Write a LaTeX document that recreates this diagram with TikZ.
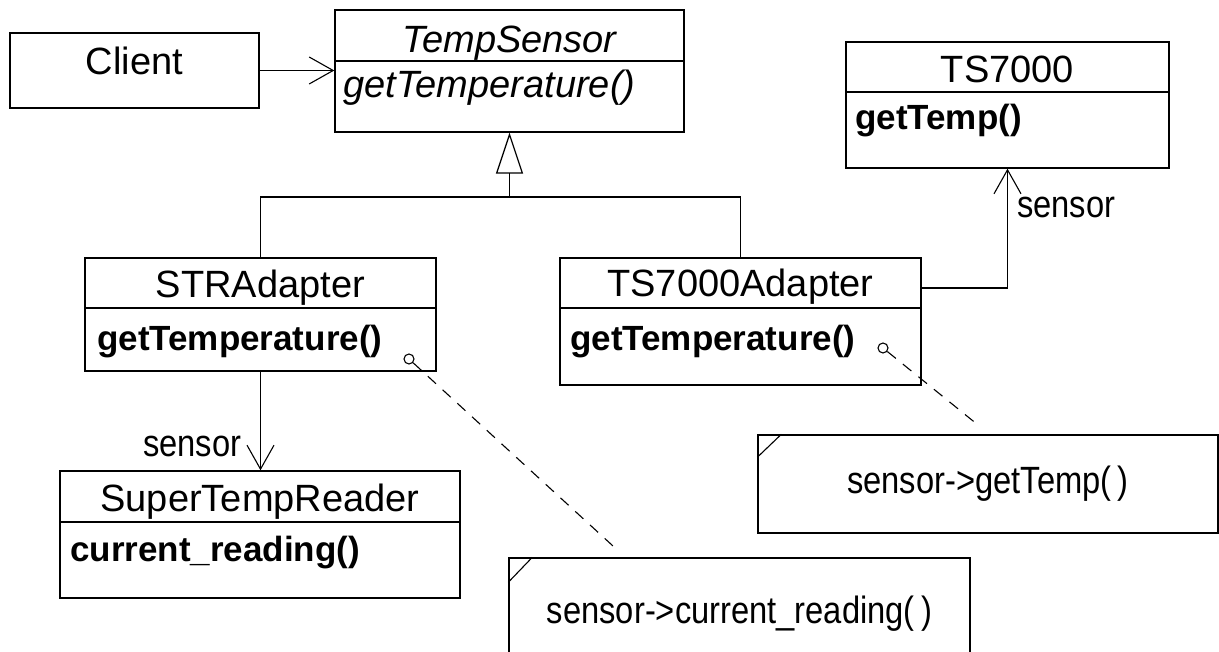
\documentclass[tikz,border=0pt]{standalone}
\usepackage{fontspec}
\setmainfont{Liberation Sans}
\newfontfamily\thinfont{Liberation Sans}[FakeStretch=0.86]
\usetikzlibrary{arrows.meta,calc}
\begin{document}
\begin{tikzpicture}[x=1pt,y=-1pt,
  box/.style={draw, line width=1.4pt, rectangle, inner sep=0pt},
  ttl/.style={inner sep=0pt, font=\fontsize{38}{40}\selectfont},
  mth/.style={inner sep=0pt, font=\fontsize{35}{38}\selectfont\bfseries},
  amth/.style={inner sep=0pt, font=\fontsize{38}{40}\selectfont\itshape},
  lbl/.style={inner sep=0pt, font=\fontsize{38}{40}\selectfont\thinfont},
  ln/.style={line width=1.4pt},
  assoc/.style={ln, -{Straight Barb[length=24pt,width=27pt,line width=1.1pt]}},
  gen/.style={ln, -{Triangle[open,length=41pt,width=27pt,line width=1.2pt]}},
  dashln/.style={line width=1.1pt, dash pattern=on 11pt off 9pt},
  pin/.style={circle, draw, line width=1.1pt, minimum size=10pt, inner sep=0pt}
]
\useasboundingbox (0,0) rectangle (1219,652);
\clip (0,0) rectangle (1219,652);
\fill[white] (0,0) rectangle (1219,652);

% Client
\node[box, minimum width=249pt, minimum height=75pt] (client) at (134.5,70.5) {};
\node[ttl, anchor=base] (clientT) at (134.5,75) {Client};

% TempSensor
\node[box, minimum width=349pt, minimum height=122pt] (ts) at (509.5,71) {};
\draw[ln] (ts.west |- 0,61) -- (ts.east |- 0,61);
\node[ttl, anchor=base] (tsT) at (509.5,53) {\itshape TempSensor};
\node[amth, anchor=base west] (tsM) at (343,98) {getTemperature()};

% TS7000
\node[box, minimum width=323pt, minimum height=126pt] (ts7) at (1007.5,105) {};
\draw[ln] (ts7.west |- 0,92) -- (ts7.east |- 0,92);
\node[ttl, anchor=base] (ts7T) at (1007.5,83) {TS7000};
\node[mth, anchor=base west] (ts7M) at (855,130) {getTemp()};

% STRAdapter
\node[box, minimum width=351pt, minimum height=113pt] (str) at (260.5,314.5) {};
\draw[ln] (str.west |- 0,308) -- (str.east |- 0,308);
\node[ttl, anchor=base] (strT) at (260.5,298) {STRAdapter};
\node[mth, anchor=base west] (strM) at (97,351) {getTemperature()};

% TS7000Adapter
\node[box, minimum width=361pt, minimum height=127pt] (tsa) at (740.5,321.5) {};
\draw[ln] (tsa.west |- 0,308) -- (tsa.east |- 0,308);
\node[ttl, anchor=base] (tsaT) at (740.5,297) {TS7000Adapter};
\node[mth, anchor=base west] (tsaM) at (570,351) {getTemperature()};

% SuperTempReader
\node[box, minimum width=400pt, minimum height=127pt] (stre) at (260,534.5) {};
\draw[ln] (stre.west |- 0,522) -- (stre.east |- 0,522);
\node[ttl, anchor=base] (streT) at (260,511) {SuperTempReader};
\node[mth, anchor=base west] (streM) at (70,561) {current\_reading()};

% Notes
\node[box, minimum width=461pt, minimum height=140pt] (note1) at (739.5,628) {};
\draw[line width=1.1pt] ([yshift=-25pt]note1.north west) -- ([xshift=24pt]note1.north west);
\node[lbl, anchor=base] (note1T) at (739.5,623) {sensor->current\_reading(\,)};

\node[box, minimum width=460pt, minimum height=98pt] (note2) at (988,484) {};
\draw[line width=1.1pt] ([yshift=-23pt]note2.north west) -- ([xshift=24pt]note2.north west);
\node[lbl, anchor=base] (note2T) at (988,493) {sensor->getTemp(\,)};

% Note pins
\node[pin] (pin1) at (409,359) {};
\node[pin] (pin2) at (883,348) {};
\coordinate (end1) at (613,546);
\coordinate (end2) at (978,425);
\draw[dashln] (pin1) -- (end1);
\draw[dashln] (pin2) -- (end2);

% Client -> TempSensor
\draw[assoc] (client.east) -- (client.east -| ts.west);

% Generalization
\coordinate (j) at (509.5,197);
\draw[ln] (str.north) |- (j) -| (tsa.north);
\draw[gen] (j) -- (ts.south);

% TS7000Adapter -> TS7000
\coordinate (a1) at (921,288);
\draw[assoc] (a1) -| (ts7.south);
\node[lbl, anchor=base west] (lab1) at (1017,218) {sensor};

% STRAdapter -> SuperTempReader
\draw[assoc] (str.south) -- (str.south |- stre.north);
\node[lbl, anchor=base west] (lab2) at (143,456) {sensor};
\end{tikzpicture}
\end{document}
